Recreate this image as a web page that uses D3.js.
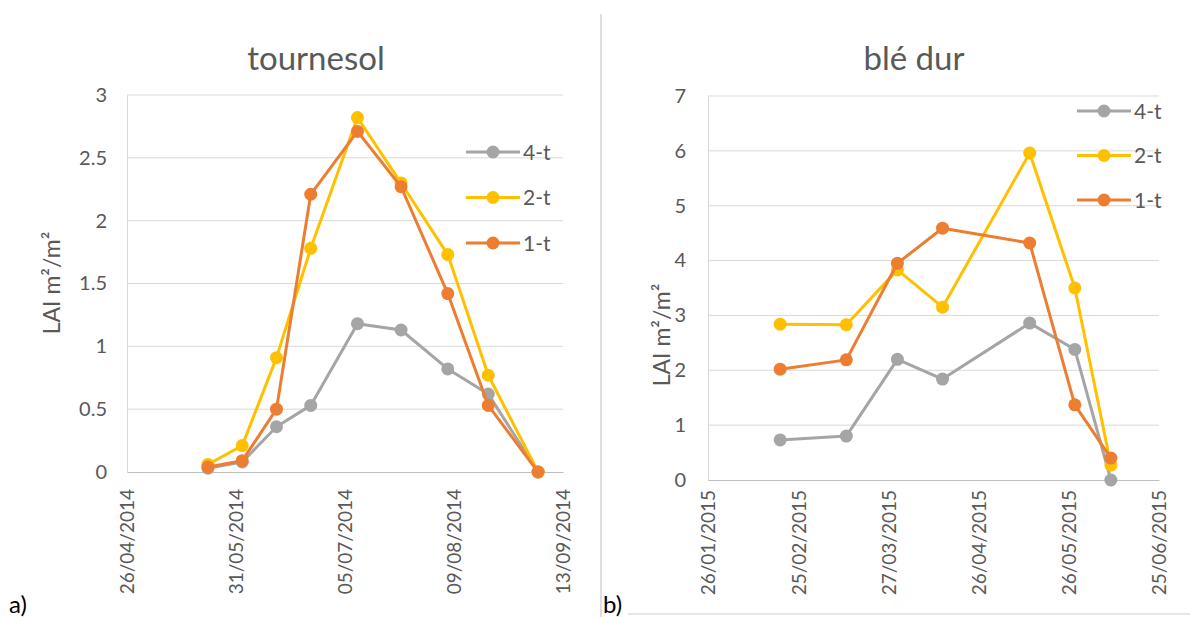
<!DOCTYPE html>
<html><head><meta charset="utf-8">
<script src="https://cdn.jsdelivr.net/npm/d3@7"></script>
<style>
html,body{margin:0;padding:0;background:#fff;}
svg{display:block;font-family:Lato,"Open Sans",sans-serif;}
</style></head>
<body>
<svg id="chart" width="1190" height="617"></svg>
<script>
// ---------- data ----------
const seriesNames = ["4-t", "2-t", "1-t"];
const seriesColors = ["#A5A5A5", "#FFC000", "#ED7D31"];

// a) tournesol
const sunDates = ["22/05/2014","02/06/2014","13/06/2014","24/06/2014","09/07/2014","23/07/2014","07/08/2014","20/08/2014","05/09/2014"];
const sun4t = [0.03, 0.08, 0.36, 0.53, 1.18, 1.13, 0.82, 0.62, 0.00];
const sun2t = [0.06, 0.21, 0.91, 1.78, 2.82, 2.30, 1.73, 0.77, 0.00];
const sun1t = [0.04, 0.09, 0.50, 2.21, 2.71, 2.27, 1.42, 0.53, 0.00];
const sunXTicks = ["26/04/2014","31/05/2014","05/07/2014","09/08/2014","13/09/2014"];
const sunYTicks = [0, 0.5, 1, 1.5, 2, 2.5, 3];

// b) blé dur
const wheatDates = ["19/02/2015","13/03/2015","30/03/2015","14/04/2015","13/05/2015","28/05/2015","09/06/2015"];
const wheat4t = [0.73, 0.80, 2.20, 1.84, 2.86, 2.38, 0.00];
const wheat2t = [2.84, 2.83, 3.83, 3.15, 5.96, 3.50, 0.27];
const wheat1t = [2.02, 2.19, 3.95, 4.59, 4.32, 1.37, 0.40];
const wheatXTicks = ["26/01/2015","25/02/2015","27/03/2015","26/04/2015","26/05/2015","25/06/2015"];
const wheatYTicks = [0, 1, 2, 3, 4, 5, 6, 7];

// ---------- drawing ----------
const parse = d3.timeParse("%d/%m/%Y");
const fmt = d3.timeFormat("%d/%m/%Y");
const svg = d3.select("#chart");
const txt = "#595959";

function panel(cfg) {
  const g = svg.append("g");
  const xTicks = cfg.xTicks.map(parse);
  const x = d3.scaleTime().domain([xTicks[0], xTicks[xTicks.length-1]]).range([cfg.left, cfg.right]);
  const y = d3.scaleLinear().domain([0, cfg.yMax]).range([cfg.bottom, cfg.top]);

  // gridlines
  g.append("g").selectAll("line").data(cfg.yTicks.filter(d => d > 0)).join("line")
    .attr("x1", cfg.left).attr("x2", cfg.right)
    .attr("y1", d => y(d)).attr("y2", d => y(d))
    .attr("stroke", "#D9D9D9").attr("stroke-width", 1);

  // y axis
  const ya = g.append("g").attr("transform", `translate(${cfg.left},0)`)
    .call(d3.axisLeft(y).tickValues(cfg.yTicks).tickSize(0).tickPadding(cfg.yPad).tickFormat(d3.format("")));
  ya.select(".domain").attr("stroke", "#D9D9D9");
  ya.selectAll("text").attr("fill", txt).attr("font-size", 20).attr("font-family", "Lato");

  // x axis
  const xa = g.append("g").attr("transform", `translate(0,${cfg.bottom})`)
    .call(d3.axisBottom(x).tickValues(xTicks).tickSize(0).tickFormat(fmt));
  xa.select(".domain").attr("stroke", "#BFBFBF");
  xa.selectAll("text")
    .attr("fill", txt).attr("font-size", 19).attr("font-family", "Lato")
    .attr("text-anchor", "end")
    .attr("transform", `rotate(-90)`)
    .attr("x", -cfg.xPad).attr("y", 0).attr("dy", "0.36em");

  // series
  const dates = cfg.dates.map(parse);
  const line = d3.line().x(d => x(d.date)).y(d => y(d.v));
  cfg.series.forEach((vals, i) => {
    const pts = vals.map((v, j) => ({date: dates[j], v}));
    g.append("path").datum(pts).attr("d", line)
      .attr("fill", "none").attr("stroke", seriesColors[i]).attr("stroke-width", 3)
      .attr("stroke-linejoin", "round");
    g.append("g").selectAll("circle").data(pts).join("circle")
      .attr("cx", d => x(d.date)).attr("cy", d => y(d.v)).attr("r", 6.5)
      .attr("fill", seriesColors[i]);
  });

  // legend
  seriesNames.forEach((n, i) => {
    const ly = cfg.legY + i * cfg.legStep;
    g.append("line").attr("x1", cfg.legX).attr("x2", cfg.legX + 54)
      .attr("y1", ly).attr("y2", ly).attr("stroke", seriesColors[i]).attr("stroke-width", 3);
    g.append("circle").attr("cx", cfg.legX + 27).attr("cy", ly).attr("r", 6.5).attr("fill", seriesColors[i]);
    g.append("text").attr("x", cfg.legX + 57).attr("y", ly).attr("dy", "0.36em")
      .attr("fill", txt).attr("font-size", 21).text(n);
  });

  // title
  g.append("text").attr("x", cfg.titleX).attr("y", 70).attr("text-anchor", "middle")
    .attr("fill", txt).attr("font-size", 33).text(cfg.title);

  // y label
  g.append("text").attr("transform", `translate(${cfg.yLabX},${cfg.yLabY}) rotate(-90)`)
    .attr("text-anchor", "middle").attr("fill", txt).attr("font-size", 23)
    .text("LAI m²/m²");
}

panel({
  left: 127, right: 563, top: 95, bottom: 472, yMax: 3,
  xTicks: sunXTicks, yTicks: sunYTicks, dates: sunDates,
  series: [sun4t, sun2t, sun1t],
  yPad: 20, xPad: 17,
  legX: 466, legY: 152, legStep: 45.5,
  title: "tournesol", titleX: 316,
  yLabX: 60, yLabY: 283
});

panel({
  left: 708, right: 1159, top: 96, bottom: 480, yMax: 7,
  xTicks: wheatXTicks, yTicks: wheatYTicks, dates: wheatDates,
  series: [wheat4t, wheat2t, wheat1t],
  yPad: 22, xPad: 10,
  legX: 1077, legY: 111, legStep: 44.5,
  title: "blé dur", titleX: 914,
  yLabX: 670, yLabY: 335
});

// separators and panel letters
svg.append("line").attr("x1", 601).attr("x2", 601).attr("y1", 14).attr("y2", 617)
  .attr("stroke", "#BFBFBF").attr("stroke-width", 1);
svg.append("line").attr("x1", 628).attr("x2", 1190).attr("y1", 614).attr("y2", 614)
  .attr("stroke", "#D0D0D0").attr("stroke-width", 1);
svg.append("text").attr("x", 9).attr("y", 613).attr("fill", "#000").attr("font-size", 24).text("a)");
svg.append("text").attr("x", 603).attr("y", 613).attr("fill", "#000").attr("font-size", 24).text("b)");
</script>
</body></html>
